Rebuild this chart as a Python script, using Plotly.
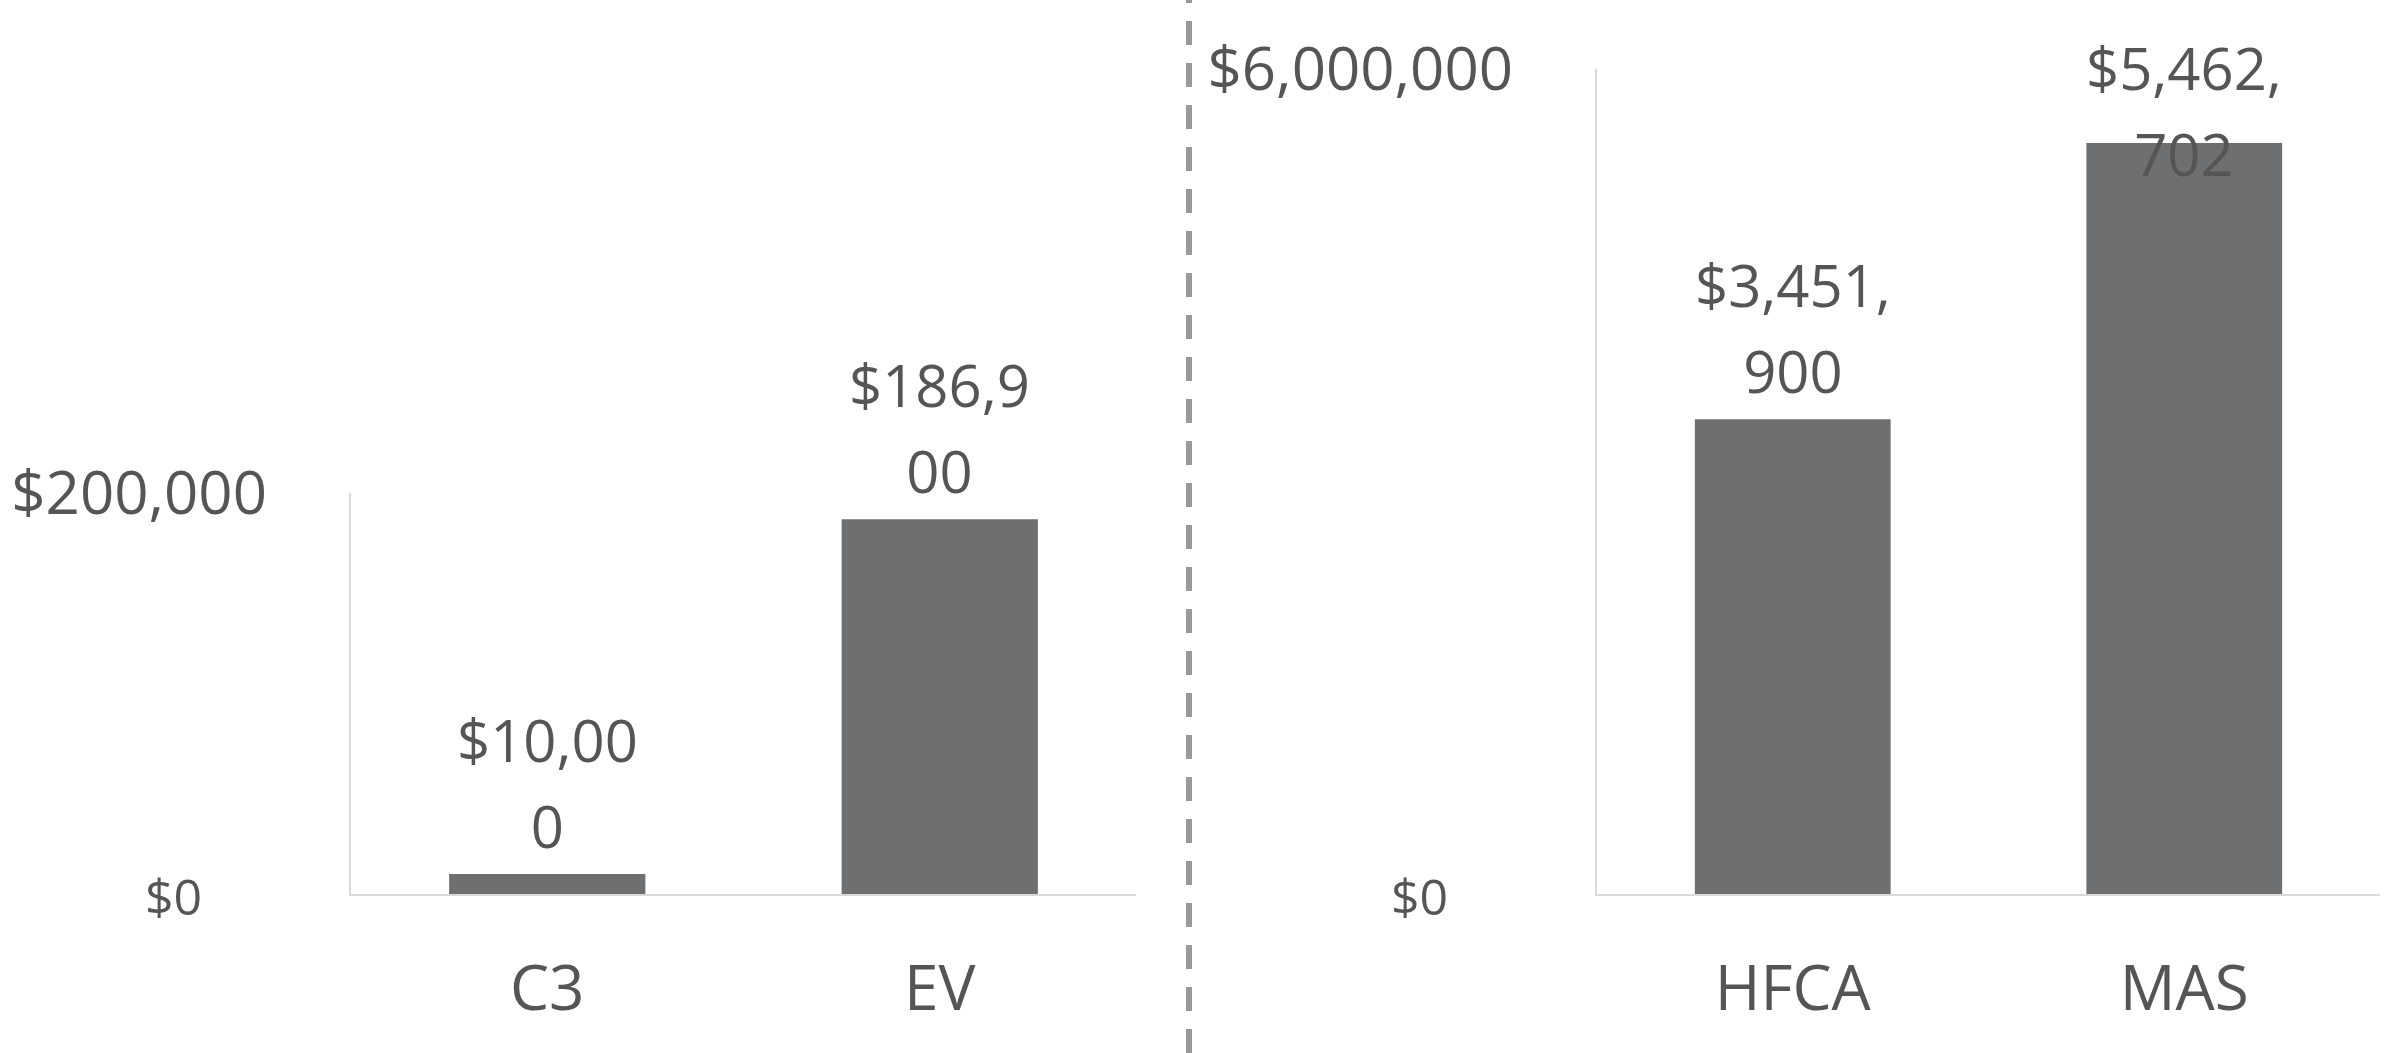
import plotly.graph_objects as go

# data
left_categories = ["C3", "EV"]
left_values = [10000, 186900]
right_categories = ["HFCA", "MAS"]
right_values = [3451900, 5462702]

left_tick_values = [0, 200000]
left_tick_labels = ["$0", "$200,000"]
right_tick_values = [0, 6000000]
right_tick_labels = ["$0", "$6,000,000"]

BAR_COLOR = "#6e6f71"
TEXT_COLOR = "#555555"
AXIS_COLOR = "#d9d9d9"
FONT = "Open Sans"

W, H = 2392, 1053
Y_DOMAIN_BOTTOM = (H - 894) / H
LEFT_Y_TOP = (H - 493) / H
RIGHT_Y_TOP = (H - 69) / H
LABEL_CEILING = (H - 202) / H   # data labels are pushed down below this line


def wrap_label(value, width):
    s = f"${value:,}"
    lines = "<br>".join(s[i:i + width] for i in range(0, len(s), width))
    # glyphs at 58px, line spacing taken from the 66px annotation font
    return "<span style='font-size:58px'>" + lines + "</span>"


def tick_text(labels):
    # the "$0" label is set smaller and a bit further from the axis
    out = []
    for lab in labels:
        if lab == "$0":
            out.append("<span style='font-size:50px'>" + lab + "\u00a0" * 5 + "</span>")
        else:
            out.append(lab)
    return out


fig = go.Figure()
fig.add_trace(go.Bar(x=left_categories, y=left_values, width=0.5,
                     marker=dict(color=BAR_COLOR, line=dict(width=0)),
                     xaxis="x", yaxis="y", showlegend=False, hoverinfo="skip"))
fig.add_trace(go.Bar(x=right_categories, y=right_values, width=0.5,
                     marker=dict(color=BAR_COLOR, line=dict(width=0)),
                     xaxis="x2", yaxis="y2", showlegend=False, hoverinfo="skip"))

panels = [
    ("x", "y", left_categories, left_values, left_tick_values[-1], LEFT_Y_TOP, 6),
    ("x2", "y2", right_categories, right_values, right_tick_values[-1], RIGHT_Y_TOP, 7),
]
for xr, yr, cats, vals, ymax, ytop, wrap in panels:
    ceiling = ymax * (LABEL_CEILING - Y_DOMAIN_BOTTOM) / (ytop - Y_DOMAIN_BOTTOM)
    for c, v in zip(cats, vals):
        fig.add_annotation(x=c, y=min(v, ceiling), xref=xr, yref=yr,
                           text=wrap_label(v, wrap), showarrow=False,
                           yanchor="bottom", yshift=7,
                           font=dict(family=FONT, size=66, color=TEXT_COLOR))

# dashed divider
fig.add_shape(type="line", xref="paper", yref="paper", x0=1189 / W, x1=1189 / W,
              y0=0, y1=1, line=dict(color="#999999", width=6, dash="24px,18px"))

xcommon = dict(showgrid=False, zeroline=False, showline=True, linecolor=AXIS_COLOR,
               linewidth=2, ticks="", ticklabelstandoff=40, automargin=False,
               tickfont=dict(family=FONT, size=62, color=TEXT_COLOR), fixedrange=True)
ycommon = dict(showgrid=False, zeroline=False, showline=True, linecolor=AXIS_COLOR,
               linewidth=2, ticks="", ticklabelstandoff=70, automargin=False,
               tickfont=dict(family=FONT, size=60, color=TEXT_COLOR), fixedrange=True)

fig.update_layout(
    width=W, height=H, autosize=False,
    margin=dict(l=0, r=0, t=0, b=0),
    paper_bgcolor="white", plot_bgcolor="white",
    font=dict(family=FONT, color=TEXT_COLOR),
    xaxis=dict(xcommon, domain=[351 / W, 1136 / W], anchor="y"),
    yaxis=dict(ycommon, domain=[Y_DOMAIN_BOTTOM, LEFT_Y_TOP], anchor="x",
               range=[0, left_tick_values[-1]], tickvals=left_tick_values,
               ticktext=tick_text(left_tick_labels)),
    xaxis2=dict(xcommon, domain=[1597 / W, 2380 / W], anchor="y2"),
    yaxis2=dict(ycommon, domain=[Y_DOMAIN_BOTTOM, RIGHT_Y_TOP], anchor="x2",
                range=[0, right_tick_values[-1]], tickvals=right_tick_values,
                ticktext=tick_text(right_tick_labels)),
)

fig.write_html("out.html", config={"displayModeBar": False},
               post_script="document.body.style.margin='0';")
